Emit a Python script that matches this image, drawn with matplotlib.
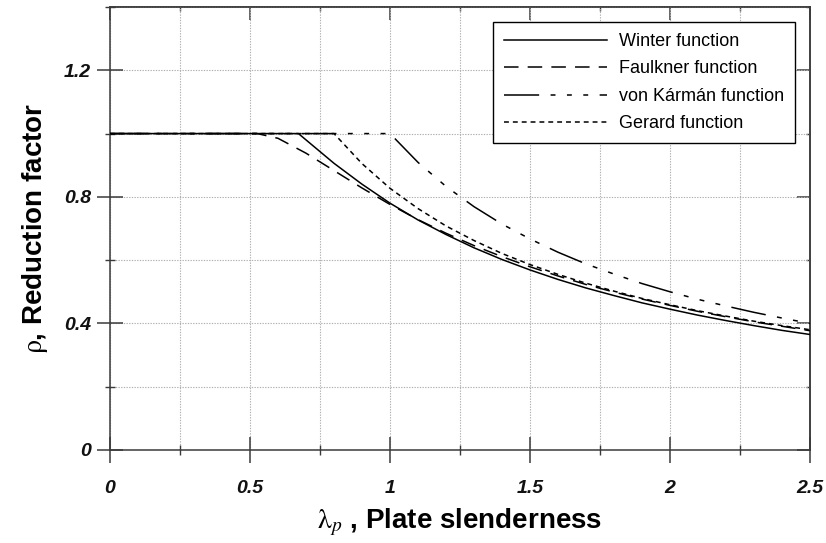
import matplotlib
matplotlib.use("Agg")
import matplotlib.pyplot as plt
from matplotlib.ticker import MultipleLocator

plt.rcParams['font.family'] = ['Liberation Sans', 'DejaVu Sans']
plt.rcParams['mathtext.fontset'] = 'stix'

# ---- data ----
winter_x = [0.0, 0.673, 0.7, 0.8, 0.9, 1.0, 1.1, 1.2, 1.3, 1.4, 1.5, 1.6, 1.7, 1.8, 1.9, 2.0, 2.1, 2.2, 2.3, 2.4, 2.5]
winter_y = [1.0, 1.0, 0.980, 0.906, 0.840, 0.780, 0.727, 0.681, 0.639, 0.602, 0.569, 0.539, 0.512, 0.488, 0.465, 0.445, 0.426, 0.409, 0.393, 0.378, 0.365]

faulkner_x = [0.0, 0.526, 0.6, 0.7, 0.8, 0.9, 1.0, 1.1, 1.2, 1.3, 1.4, 1.5, 1.6, 1.7, 1.8, 1.9, 2.0, 2.1, 2.2, 2.3, 2.4, 2.5]
faulkner_y = [1.0, 1.0, 0.985, 0.938, 0.883, 0.828, 0.776, 0.728, 0.685, 0.646, 0.611, 0.579, 0.550, 0.523, 0.499, 0.477, 0.457, 0.438, 0.421, 0.405, 0.391, 0.377]

karman_x = [0.0, 1.0, 1.1, 1.2, 1.3, 1.4, 1.5, 1.6, 1.7, 1.8, 1.9, 2.0, 2.1, 2.2, 2.3, 2.4, 2.5]
karman_y = [1.0, 1.0, 0.909, 0.833, 0.769, 0.714, 0.667, 0.625, 0.588, 0.556, 0.526, 0.500, 0.476, 0.455, 0.435, 0.417, 0.400]

gerard_x = [0.0, 0.8, 0.9, 1.0, 1.1, 1.2, 1.3, 1.4, 1.5, 1.6, 1.7, 1.8, 1.9, 2.0, 2.1, 2.2, 2.3, 2.4, 2.5]
gerard_y = [1.0, 1.0, 0.905, 0.827, 0.763, 0.708, 0.662, 0.621, 0.586, 0.555, 0.527, 0.502, 0.479, 0.459, 0.440, 0.423, 0.407, 0.393, 0.380]

series_labels = ["Winter function", "Faulkner function", "von Kármán function", "Gerard function"]

x_ticks = [0, 0.5, 1, 1.5, 2, 2.5]
x_tick_labels = ["0", "0.5", "1", "1.5", "2", "2.5"]
y_ticks = [0, 0.4, 0.8, 1.2]
y_tick_labels = ["0", "0.4", "0.8", "1.2"]

# ---- figure ----
fig = plt.figure(figsize=(8.26, 5.43), dpi=100)
ax = fig.add_axes([0.1332, 0.1713, 0.8474, 0.8158])

lw = 1.1
ax.plot(winter_x, winter_y, color='black', lw=lw, linestyle='-', label=series_labels[0], zorder=5)
ax.plot(faulkner_x, faulkner_y, color='black', lw=lw, linestyle=(0, (9.5, 6.0)), label=series_labels[1], zorder=4)
ax.plot(karman_x, karman_y, color='black', lw=lw,
        linestyle=(0, (23, 7.5, 3.2, 7.5, 3.2, 7.5, 3.2, 7.5)), label=series_labels[2], zorder=3)
ax.plot(gerard_x, gerard_y, color='black', lw=lw, linestyle=(0, (3.2, 2.6)), label=series_labels[3], zorder=2)

ax.set_xlim(0, 2.5)
ax.set_ylim(0, 1.4)

ax.set_xticks(x_ticks)
ax.set_xticklabels(x_tick_labels)
ax.set_yticks(y_ticks)
ax.set_yticklabels(y_tick_labels)
ax.xaxis.set_minor_locator(MultipleLocator(0.25))
ax.yaxis.set_minor_locator(MultipleLocator(0.2))

ax.grid(True, which='both', color='#b0b0b0', linestyle=(0, (1.2, 1.2)), linewidth=0.8)
ax.set_axisbelow(True)

spine_color = '#3a3a3a'
for s in ax.spines.values():
    s.set_color(spine_color)
    s.set_linewidth(1.1)

ax.tick_params(which='major', direction='inout', length=19, width=1.1, color=spine_color,
               top=False, right=False)
ax.tick_params(which='minor', direction='inout', length=7, width=1.0, color=spine_color,
               top=False, right=False)
ax.tick_params(axis='x', which='major', pad=12)
ax.tick_params(axis='y', which='major', pad=4)

for lab in ax.get_xticklabels() + ax.get_yticklabels():
    lab.set_fontweight('bold')
    lab.set_fontstyle('italic')
    lab.set_fontsize(14)
    lab.set_color('#111111')

# inward ticks on top and right
secx = ax.secondary_xaxis('top')
secx.set_xticks(x_ticks)
secx.xaxis.set_minor_locator(MultipleLocator(0.25))
secx.tick_params(which='major', direction='in', length=9.5, width=1.1, color=spine_color, labeltop=False)
secx.tick_params(which='minor', direction='in', length=3, width=1.0, color=spine_color, labeltop=False)
secx.spines['top'].set_color(spine_color)
secx.spines['top'].set_linewidth(1.1)

secy = ax.secondary_yaxis('right')
secy.set_yticks(y_ticks)
secy.yaxis.set_minor_locator(MultipleLocator(0.2))
secy.tick_params(which='major', direction='in', length=9.5, width=1.1, color=spine_color, labelright=False)
secy.tick_params(which='minor', direction='in', length=3, width=1.0, color=spine_color, labelright=False)
secy.spines['right'].set_color(spine_color)
secy.spines['right'].set_linewidth(1.1)

ax.set_xlabel(r'$\mathrm{\lambda}_p$ , Plate slenderness', fontsize=20, fontweight='bold', labelpad=7)
ax.set_ylabel(r'$\mathrm{\rho}$, Reduction factor', fontsize=20, fontweight='bold', labelpad=10)

leg = ax.legend(loc='upper right', bbox_to_anchor=(0.979, 0.966), borderaxespad=0,
                fontsize=13, handlelength=5.7, handletextpad=0.7, labelspacing=0.58,
                fancybox=False, framealpha=1, edgecolor='black', borderpad=0.6)
leg.get_frame().set_linewidth(1.0)

fig.savefig('out.png', dpi=100)
